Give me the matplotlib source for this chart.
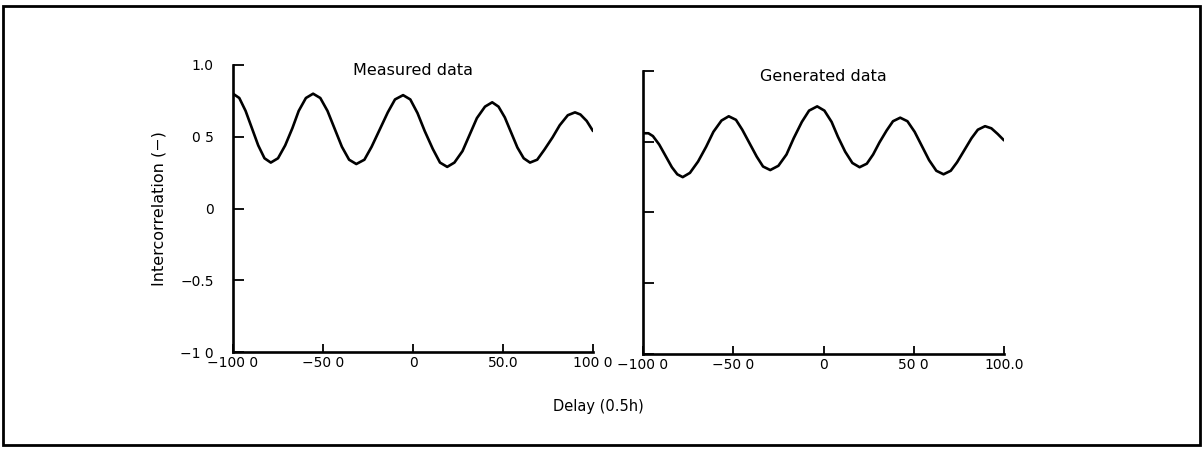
import matplotlib
matplotlib.use("Agg")
import matplotlib.pyplot as plt
from matplotlib.patches import Rectangle

# ---- data ----
measured_delay = [-100, -96.5, -93, -89.5, -86, -82.5, -79,
                  -75, -71, -67, -63.5, -59.5, -55.5,
                  -51.5, -47.5, -43.5, -39.5, -35.5, -31.5,
                  -27, -23, -18.5, -14, -10, -5.5,
                  -1.5, 2.5, 6.5, 11, 15, 19,
                  23, 27.5, 31.5, 35.5, 40, 44,
                  47.5, 51, 54.5, 58, 61.5, 65,
                  69, 73, 77.5, 81.5, 86, 90,
                  93, 96.5, 100]
measured_corr = [0.80, 0.77, 0.68, 0.56, 0.44, 0.35, 0.32,
                 0.35, 0.44, 0.56, 0.68, 0.77, 0.80,
                 0.77, 0.68, 0.555, 0.43, 0.34, 0.31,
                 0.34, 0.43, 0.55, 0.67, 0.76, 0.79,
                 0.76, 0.665, 0.54, 0.415, 0.32, 0.29,
                 0.32, 0.40, 0.515, 0.63, 0.71, 0.74,
                 0.71, 0.635, 0.53, 0.425, 0.35, 0.32,
                 0.34, 0.41, 0.495, 0.58, 0.65, 0.67,
                 0.655, 0.61, 0.54]

generated_delay = [-100, -97, -94.5, -91, -87.5, -84, -81, -78,
                   -74, -69.5, -65, -61, -56.5, -52.5,
                   -48.5, -45, -41, -37, -33.5, -29.5,
                   -25, -20.5, -16.5, -12, -8, -3.5,
                   0.5, 4.5, 8, 12, 16, 20,
                   24, 27.5, 31, 35, 38.5, 42.5,
                   46.5, 50.5, 54.5, 58.5, 62.5, 66.5,
                   70.5, 74, 78, 82, 85.5, 89.5,
                   93, 96.5, 100]
generated_corr = [0.56, 0.56, 0.54, 0.48, 0.40, 0.32, 0.27, 0.25,
                  0.28, 0.36, 0.465, 0.57, 0.65, 0.68,
                  0.655, 0.585, 0.49, 0.395, 0.325, 0.30,
                  0.33, 0.41, 0.525, 0.64, 0.72, 0.75,
                  0.72, 0.64, 0.535, 0.43, 0.35, 0.32,
                  0.345, 0.41, 0.495, 0.58, 0.645, 0.67,
                  0.645, 0.57, 0.47, 0.37, 0.295, 0.27,
                  0.295, 0.355, 0.44, 0.525, 0.585, 0.61,
                  0.595, 0.555, 0.51]

x_ticks = [-100, -50, 0, 50, 100]
y_ticks = [-1.0, -0.5, 0.0, 0.5, 1.0]
left_xlabels = ["\u2212100 0", "\u221250 0", "0", "50.0", "100 0"]
right_xlabels = ["\u2212100 0", "\u221250 0", "0", "50 0", "100.0"]
left_ylabels = ["\u22121 0", "\u22120.5", "0", "0 5", "1.0"]
titles = ["Measured data", "Generated data"]
ylabel = "Intercorrelation (\u2212)"
xlabel = "Delay (0.5h)"

W, H = 1203, 450
plt.rcParams['font.family'] = ['DejaVu Sans']
fig = plt.figure(figsize=(W / 100, H / 100), dpi=100)

def px_axes(x0, y_top, x1, y_bot):
    return fig.add_axes([x0 / W, 1 - y_bot / H, (x1 - x0) / W, (y_bot - y_top) / H])

ax1 = px_axes(233, 65, 593, 352)
ax2 = px_axes(643, 71, 1004, 354)

for ax, xd, yd, xl, title in [(ax1, measured_delay, measured_corr, left_xlabels, titles[0]),
                              (ax2, generated_delay, generated_corr, right_xlabels, titles[1])]:
    ax.plot(xd, yd, color='black', lw=1.9, solid_capstyle='round', solid_joinstyle='round')
    ax.set_xlim(-100, 100)
    ax.set_ylim(-1.0, 1.0)
    for s in ['top', 'right']:
        ax.spines[s].set_visible(False)
    for s in ['left', 'bottom']:
        ax.spines[s].set_linewidth(1.9)
    ax.set_xticks(x_ticks)
    ax.set_xticklabels(xl, fontsize=10)
    ax.set_yticks(y_ticks)
    ax.tick_params(axis='x', direction='in', length=6, width=1.3, pad=3)
    ax.tick_params(axis='y', direction='in', length=8, width=1.3, pad=14)
    ax.set_title(title, fontsize=11.5, y=0.965, pad=0)
    ax.patch.set_alpha(0)

ax1.set_yticklabels(left_ylabels, fontsize=10)
ax2.set_yticklabels([])
ax1.set_ylabel(ylabel, fontsize=11.5, labelpad=10)
fig.text(598 / W, 1 - 406 / H, xlabel, ha='center', va='center', fontsize=10.5)

# outer frame
fig.add_artist(Rectangle((3 / W, 1 - 445 / H), (1200 - 3) / W, (445 - 6) / H,
                         transform=fig.transFigure, fill=False, lw=2, ec='black'))

fig.savefig("out.png", dpi=100)
